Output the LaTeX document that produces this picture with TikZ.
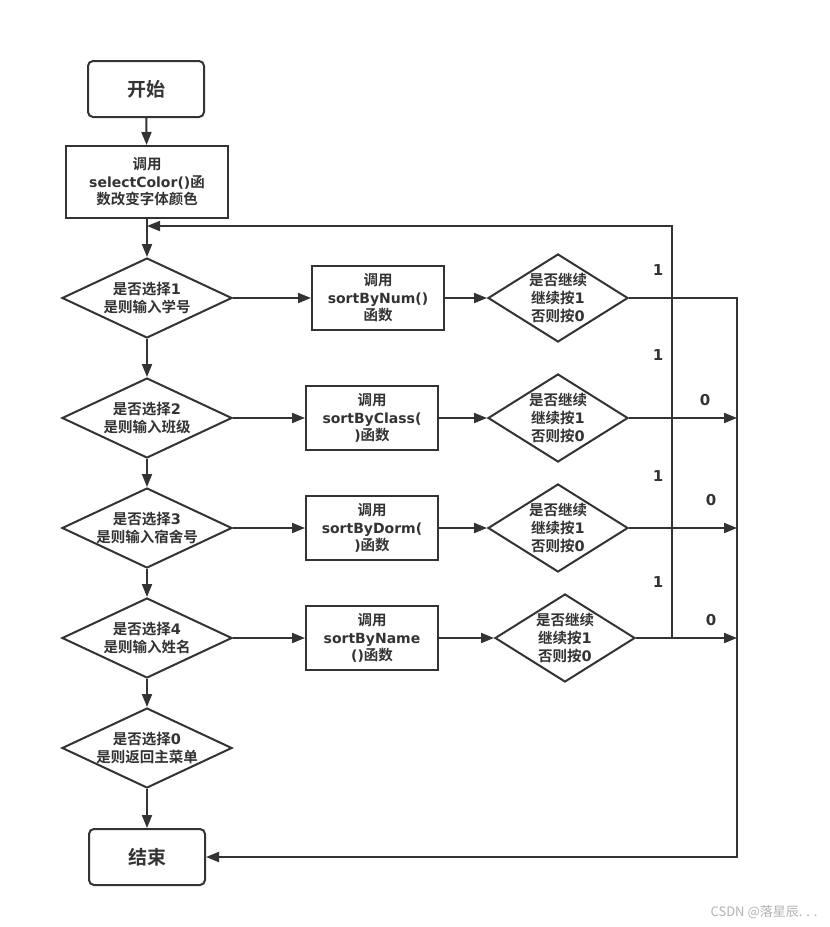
\documentclass[tikz,border=0pt]{standalone}
\usepackage{fontspec}
\setmainfont{Noto Sans CJK SC}[BoldFont=Noto Sans CJK SC Bold]
\newfontfamily\lat{DejaVu Sans}
\newcommand\fname[1]{{\lat\fontsize{14}{17.5}\selectfont #1}}
\usetikzlibrary{shapes.geometric}
\usetikzlibrary{arrows, arrows.meta}
\definecolor{ink}{RGB}{51,51,51}

\tikzset{
  procbox/.style={draw=ink, line width=2pt, minimum width=132pt, minimum height=64pt,
    align=center, inner sep=0pt, font=\fontsize{14.5}{17.5}\selectfont\bfseries, text=ink},
  termbox/.style={procbox, rounded corners=5pt, minimum width=116pt, minimum height=56pt,
    font=\fontsize{19}{22}\selectfont\bfseries},
  decision/.style={draw=ink, line width=2pt, diamond, inner sep=0pt,
    minimum width=170pt, minimum height=80pt},
  dtext/.style={align=center, inner sep=0pt, text=ink,
    font=\fontsize{14.5}{18}\selectfont\bfseries},
  numlbl/.style={text=ink, font=\fontsize{15}{17}\selectfont\bfseries\lat}
}

\begin{document}
\begin{tikzpicture}[x=1pt, y=-1pt]
\useasboundingbox (0,0) rectangle (830,927);
\begin{scope}[>={Triangle[length=13pt,width=10pt]}, line width=2pt, draw=ink]

% left column
\node[termbox] (start) at (146,89) {开始};
\node[procbox, minimum width=162pt, minimum height=72pt] (sel) at (147,182)
  {调用\\\fname{selectColor()}函\\数改变字体颜色};
\node[decision, label={[dtext]center:是否选择{\lat 1}\\是则输入学号}] (d1) at (147,298) {};
\node[decision, label={[dtext]center:是否选择{\lat 2}\\是则输入班级}] (d2) at (147,418) {};
\node[decision, label={[dtext]center:是否选择{\lat 3}\\是则输入宿舍号}] (d3) at (147,528) {};
\node[decision, label={[dtext]center:是否选择{\lat 4}\\是则输入姓名}] (d4) at (147,638) {};
\node[decision, label={[dtext]center:是否选择{\lat 0}\\是则返回主菜单}] (d5) at (147,748) {};
\node[termbox] (stop) at (147,857) {结束};

% function boxes
\node[procbox] (b1) at (378,298) {调用\\\fname{sortByNum()}\\函数};
\node[procbox] (b2) at (372,418) {调用\\\fname{sortByClass(}\\\fname{)}函数};
\node[procbox] (b3) at (372,528) {调用\\\fname{sortByDorm(}\\\fname{)}函数};
\node[procbox] (b4) at (372,638) {调用\\\fname{sortByName}\\\fname{()}函数};

% continue?
\node[decision, minimum width=140pt, minimum height=88pt,
  label={[dtext]center:是否继续\\继续按{\lat 1}\\否则按{\lat 0}}] (c1) at (558,298) {};
\node[decision, minimum width=140pt, minimum height=88pt,
  label={[dtext]center:是否继续\\继续按{\lat 1}\\否则按{\lat 0}}] (c2) at (558,418) {};
\node[decision, minimum width=140pt, minimum height=88pt,
  label={[dtext]center:是否继续\\继续按{\lat 1}\\否则按{\lat 0}}] (c3) at (558,528) {};
\node[decision, minimum width=140pt, minimum height=88pt,
  label={[dtext]center:是否继续\\继续按{\lat 1}\\否则按{\lat 0}}] (c4) at (565,638) {};

\coordinate (loop) at (672,0);
\coordinate (rail) at (737,0);
\coordinate (back) at (147,226);

\draw[->] (start) -- (sel);
\draw[->] (sel) -- (d1);
\draw[->] (d1) -- (d2);
\draw[->] (d2) -- (d3);
\draw[->] (d3) -- (d4);
\draw[->] (d4) -- (d5);
\draw[->] (d5) -- (stop);

\draw[->] (d1) -- (b1);
\draw[->] (d2) -- (b2);
\draw[->] (d3) -- (b3);
\draw[->] (d4) -- (b4);
\draw[->] (b1) -- (c1);
\draw[->] (b2) -- (c2);
\draw[->] (b3) -- (c3);
\draw[->] (b4) -- (c4);

% back to the menu
\draw[->] (c4.east -| loop) -- (loop |- back) -- (back);
% leave
\draw[->] (c1.east) -- (c1.east -| rail) -- (rail |- stop) -- (stop.east);
\draw[->] (c2.east) -- (c2.east -| rail);
\draw[->] (c3.east) -- (c3.east -| rail);
\draw[->] (c4.east) -- (c4.east -| rail);

\node[numlbl] (one1) at (658,270) {1};
\node[numlbl] (one2) at (658,355) {1};
\node[numlbl] (one3) at (658,476) {1};
\node[numlbl] (one4) at (658,582) {1};
\node[numlbl] (zero2) at (705,400) {0};
\node[numlbl] (zero3) at (711,500) {0};
\node[numlbl] (zero4) at (711,620) {0};

\end{scope}
\node[text=gray!60, font=\fontsize{13}{15}\selectfont] (mark) at (764,912) {CSDN @落星辰. . .};
\end{tikzpicture}
\end{document}
